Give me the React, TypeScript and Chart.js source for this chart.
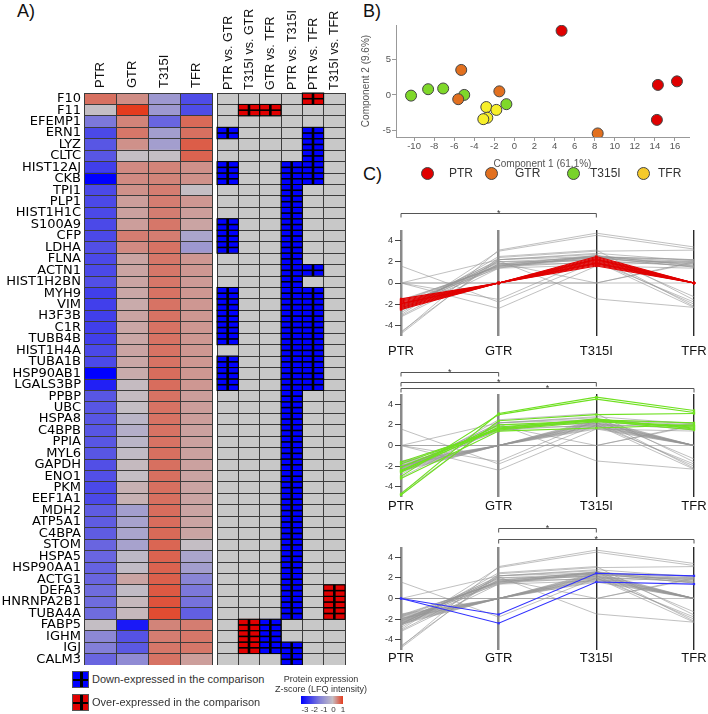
import React, { useEffect, useRef } from 'react';
import { Chart, registerables } from 'chart.js';
Chart.register(...registerables);

// ---------------- DATA ----------------
const genes = ['F10','F11','EFEMP1','ERN1','LYZ','CLTC','HIST12AJ','CKB','TPI1','PLP1','HIST1H1C','S100A9','CFP','LDHA','FLNA','ACTN1','HIST1H2BN','MYH9','VIM','H3F3B','C1R','TUBB4B','HIST1H4A','TUBA1B','HSP90AB1','LGALS3BP','PPBP','UBC','HSPA8','C4BPB','PPIA','MYL6','GAPDH','ENO1','PKM','EEF1A1','MDH2','ATP5A1','C4BPA','STOM','HSPA5','HSP90AA1','ACTG1','DEFA3','HNRNPA2B1','TUBA4A','FABP5','IGHM','IGJ','CALM3'];
const conditions = ['PTR', 'GTR', 'T315I', 'TFR'];

const zPTR = [0.6,0,-1.1,-1.85,-1.65,-1.65,-2.0,-3.0,-1.85,-1.85,-1.85,-1.85,-1.85,-1.75,-1.85,-1.85,-1.75,-2.0,-2.0,-2.0,-2.0,-2.0,-1.85,-1.85,-3.0,-2.5,-1.65,-1.65,-1.65,-1.65,-1.65,-1.65,-1.75,-1.75,-1.85,-1.85,-1.55,-1.55,-1.55,-1.4,-1.4,-1.45,-1.4,-1.3,-1.3,-1.3,0,-0.85,-1.0,-1.4];
const zGTR = [0.38,1.0,0.45,0.55,0.35,0.0,0.4,0.4,0.35,0.25,0.22,0.25,0.5,0.4,0.2,0.2,0.2,0.18,0.15,0.2,0.18,0.18,0.2,0.18,0.15,0.02,0.02,0.0,-0.15,-0.25,-0.15,-0.05,0.03,0.0,0.1,0.1,-0.5,-0.45,-0.4,-0.45,-0.1,-0.05,0.2,-0.05,0.05,0.05,-2.6,-1.7,-1.6,-0.8];
const zT315I = [-0.6,-0.6,-1.4,-0.5,-0.5,0.0,0.45,0.45,0.5,0.5,0.5,0.55,0.5,0.58,0.55,0.55,0.55,0.58,0.58,0.58,0.58,0.58,0.58,0.58,0.62,0.62,0.58,0.58,0.58,0.58,0.58,0.6,0.6,0.6,0.6,0.6,0.62,0.62,0.65,0.68,0.7,0.7,0.72,0.78,0.82,0.88,0.45,0.5,0.55,0.58];
const zTFR = [-1.8,-1.8,0.65,0.6,0.75,0.7,0.35,0.35,0.0,0.3,0.25,0.2,-0.4,-0.6,0.3,0.3,0.28,0.3,0.3,0.3,0.3,0.3,0.3,0.3,0.3,0.3,0.25,0.25,0.25,0.22,0.22,0.22,0.22,0.2,0.2,0.2,0.2,0.2,0.2,0.0,-0.4,-0.5,-0.9,-1.1,-1.2,-1.5,0.5,0.55,0.55,0.25];

const comparisons = ['PTR vs. GTR', 'T315I vs. GTR', 'GTR vs. TFR', 'PTR vs. T315I', 'PTR vs. TFR', 'T315I vs. TFR'];
const downPTRvsGTR = ['ERN1','HIST12AJ','CKB','S100A9','CFP','LDHA','MYH9','VIM','H3F3B','C1R','TUBB4B','TUBA1B','HSP90AB1','LGALS3BP'];
const overPTRvsGTR: string[] = [];
const downT315IvsGTR: string[] = [];
const overT315IvsGTR = ['F11','FABP5','IGHM','IGJ'];
const downGTRvsTFR = ['FABP5','IGHM','IGJ'];
const overGTRvsTFR = ['F11'];
const downPTRvsT315I = ['HIST12AJ','CKB','TPI1','PLP1','HIST1H1C','S100A9','CFP','LDHA','FLNA','ACTN1','HIST1H2BN','MYH9','VIM','H3F3B','C1R','TUBB4B','HIST1H4A','TUBA1B','HSP90AB1','LGALS3BP','PPBP','UBC','HSPA8','C4BPB','PPIA','MYL6','GAPDH','ENO1','PKM','EEF1A1','MDH2','ATP5A1','C4BPA','STOM','HSPA5','HSP90AA1','ACTG1','DEFA3','HNRNPA2B1','TUBA4A','IGJ','CALM3'];
const overPTRvsT315I: string[] = [];
const downPTRvsTFR = ['ERN1','LYZ','CLTC','HIST12AJ','CKB','ACTN1','MYH9','VIM','H3F3B','C1R','TUBB4B','HIST1H4A','TUBA1B','HSP90AB1','LGALS3BP'];
const overPTRvsTFR = ['F10'];
const downT315IvsTFR: string[] = [];
const overT315IvsTFR = ['DEFA3','HNRNPA2B1','TUBA4A'];

const pcaPTR = [{ x: 4.7, y: 9.0 }, { x: 14.3, y: 1.4 }, { x: 16.2, y: 1.9 }, { x: 14.2, y: -3.5 }];
const pcaGTR = [{ x: -5.3, y: 3.5 }, { x: -5.6, y: -0.6 }, { x: -1.5, y: 0.5 }, { x: 8.3, y: -5.4 }];
const pcaT315I = [{ x: -10.3, y: -0.1 }, { x: -8.6, y: 0.8 }, { x: -7.1, y: 0.9 }, { x: -5.0, y: 0.0 }, { x: -0.8, y: -1.3 }];
const pcaTFR = [{ x: -2.8, y: -1.7 }, { x: -1.8, y: -2.1 }, { x: -2.7, y: -3.2 }, { x: -3.1, y: -3.4 }];

// protein profiles across PTR, GTR, T315I, TFR
const redProfiles = [
  [-1.5, 0, 2.4, 0], [-1.6, 0, 1.6, 0], [-1.7, 0, 2.2, 0], [-1.8, 0, 1.9, 0], [-1.9, 0, 2.0, 0], [-2.0, 0, 1.8, 0],
  [-2.1, 0, 2.3, 0], [-2.2, 0, 1.7, 0], [-2.3, 0, 2.5, 0], [-2.4, 0, 2.1, 0], [-2.5, 0, 2.2, 0], [-1.95, 0, 1.9, 0],
];
const greenProfiles = [
  [-4.7, 3.1, 4.7, 3.4], [-3.0, 3.0, 4.5, 3.2], [-4.8, 2.4, 3.0, 3.1], [-2.6, 1.8, 2.5, 2.2], [-2.4, 1.6, 2.4, 1.9],
  [-1.6, 1.5, 2.3, 1.8], [-2.1, 1.7, 2.6, 1.6], [-3.2, 1.4, 1.7, 2.0], [-2.5, 2.0, 2.4, 1.5], [-1.8, 1.6, 2.5, 1.7],
];
const blueProfiles = [
  [0, -1.55, 2.45, 2.2], [0, -2.4, 1.6, 1.4],
];
const otherProfiles = [
  [1.6, -1.8, 2.0, -2.3], [0, 2.2, 2.8, 2.1], [0, 0, 0, 2.0], [-2.2, 2.1, -1.5, -2.3], [-2.3, 1.9, 0, 1.9],
  [-4.6, 2.2, 2.7, -1.3], [-2.8, 2.5, 3.1, -1.6], [-3.1, 1.8, 2.2, -2.0], [-2.6, 1.5, 2.0, -1.8], [-2.0, 1.4, 2.6, -2.2],
  [-2.2, 1.7, 1.9, 2.1], [-2.4, 2.0, 2.1, 1.6], [-1.7, 1.6, 2.4, 1.5], [0, 0, 0, 0], [-2.5, 2.2, 2.5, 2.0],
];

const bracketsC1 = [['PTR', 'T315I']];
const bracketsC2 = [['PTR', 'GTR'], ['PTR', 'T315I'], ['PTR', 'TFR']];
const bracketsC3 = [['GTR', 'T315I'], ['GTR', 'TFR']];

const zLegendTicks = ['-3', '-2', '-1', '0', '1'];

// ---------------- HELPERS ----------------
function zColor(v: number): string {
  const mid = [196, 190, 196], lo = [0, 0, 255], hi = [228, 60, 30];
  const t = v < 0 ? Math.min(1, -v / 3) : Math.min(1, v);
  const end = v < 0 ? lo : hi;
  const c = mid.map((m, k) => Math.round(m + (end[k] - m) * t));
  return `rgb(${c[0]},${c[1]},${c[2]})`;
}
function sigColumn(down: string[], over: string[]): number[] {
  return genes.map(g => (down.includes(g) ? -1 : over.includes(g) ? 1 : 0));
}
const FONT = 'Liberation Sans, Arial, sans-serif';
const GRIDC = '#3c3c3c';

function useChart(factory: (c: HTMLCanvasElement) => Chart) {
  const ref = useRef<HTMLCanvasElement>(null);
  useEffect(() => {
    const ch = factory(ref.current!);
    return () => ch.destroy();
  }, []);
  return ref;
}

function headerPlugin(labels: string[], size: number, gap: number) {
  return {
    id: 'headers',
    afterDraw(chart: any) {
      const { ctx } = chart;
      const xs = chart.scales.x;
      labels.forEach((l, j) => {
        const x = xs.getPixelForValue(j + 0.5);
        ctx.save();
        ctx.translate(x + 0.5, chart.chartArea.top - gap);
        ctx.rotate(-Math.PI / 2);
        ctx.font = `${size}px ${FONT}`;
        ctx.fillStyle = '#111';
        ctx.textAlign = 'left';
        ctx.textBaseline = 'middle';
        ctx.fillText(l, 0, 0);
        ctx.restore();
      });
    },
  };
}

function matrixScales(ncol: number, showGenes: boolean, leftW: number) {
  return {
    x: {
      type: 'linear', position: 'top', min: 0, max: ncol,
      ticks: { display: false },
      grid: { display: false, drawTicks: false },
      border: { display: false },
      afterFit: (s: any) => { s.height = 93; s.paddingLeft = 0; s.paddingRight = 0; },
    },
    xg: {
      type: 'linear', position: 'bottom', min: 0, max: ncol,
      afterBuildTicks: (a: any) => { a.ticks = Array.from({ length: ncol + 1 }, (_, k) => ({ value: k })); },
      ticks: { display: false },
      grid: { color: GRIDC, z: 1, drawTicks: false },
      border: { display: false },
      afterFit: (s: any) => { s.height = 0; s.paddingLeft = 0; s.paddingRight = 0; },
    },
    y: {
      type: 'category', position: 'left',
      ticks: showGenes ? { autoSkip: false, font: { family: 'DejaVu Sans', size: 13 }, color: '#000', padding: 3 } : { display: false },
      grid: { offset: true, color: GRIDC, z: 1, drawTicks: false },
      border: { display: false },
      afterFit: (s: any) => { s.width = leftW; s.paddingTop = 0; s.paddingBottom = 0; },
    },
  };
}

// ---------------- HEATMAP ----------------
function Heatmap() {
  const ref = useChart(canvas => {
    const cols = [zPTR, zGTR, zT315I, zTFR];
    return new Chart(canvas, {
      type: 'bar',
      data: {
        labels: genes,
        datasets: cols.map((vals, j) => ({
          label: conditions[j],
          data: vals.map(() => [j, j + 1]),
          backgroundColor: vals.map(zColor),
          borderWidth: 0,
          barPercentage: 1,
          categoryPercentage: 1,
          grouped: false,
        })) as any,
      },
      options: {
        indexAxis: 'y',
        responsive: false,
        animation: false,
        layout: { padding: { right: 1, left: 0, top: 0, bottom: 0 } },
        plugins: { legend: { display: false }, tooltip: { enabled: false } },
        scales: matrixScales(4, true, 84) as any,
      },
      plugins: [headerPlugin(conditions, 13, 5)],
    });
  });
  return <canvas ref={ref} width={213} height={665} style={{ position: 'absolute', left: 0, top: 0 }} />;
}

// ---------------- COMPARISON MATRIX ----------------
function Comparisons() {
  const ref = useChart(canvas => {
    const sig = [
      sigColumn(downPTRvsGTR, overPTRvsGTR),
      sigColumn(downT315IvsGTR, overT315IvsGTR),
      sigColumn(downGTRvsTFR, overGTRvsTFR),
      sigColumn(downPTRvsT315I, overPTRvsT315I),
      sigColumn(downPTRvsTFR, overPTRvsTFR),
      sigColumn(downT315IvsTFR, overT315IvsTFR),
    ];
    const crossPlugin = {
      id: 'cross',
      afterDraw(chart: any) {
        const { ctx } = chart;
        const xs = chart.scales.x, ys = chart.scales.y;
        const h = Math.abs(ys.getPixelForValue(1) - ys.getPixelForValue(0));
        sig.forEach((col, j) => col.forEach((s, i) => {
          if (!s) return;
          const x0 = xs.getPixelForValue(j), x1 = xs.getPixelForValue(j + 1), yc = ys.getPixelForValue(i);
          ctx.save();
          ctx.strokeStyle = '#000';
          ctx.lineWidth = 2.6;
          ctx.beginPath(); ctx.moveTo((x0 + x1) / 2, yc - h / 2); ctx.lineTo((x0 + x1) / 2, yc + h / 2); ctx.stroke();
          ctx.lineWidth = 1.6;
          ctx.beginPath(); ctx.moveTo(x0, yc); ctx.lineTo(x1, yc); ctx.stroke();
          ctx.lineWidth = 1;
          ctx.strokeRect(x0, yc - h / 2, x1 - x0, h);
          ctx.restore();
        }));
      },
    };
    return new Chart(canvas, {
      type: 'bar',
      data: {
        labels: genes,
        datasets: sig.map((col, j) => ({
          label: comparisons[j],
          data: col.map(() => [j, j + 1]),
          backgroundColor: col.map(s => (s < 0 ? '#0000ff' : s > 0 ? '#e00000' : '#c8c8c8')),
          borderWidth: 0,
          barPercentage: 1,
          categoryPercentage: 1,
          grouped: false,
        })) as any,
      },
      options: {
        indexAxis: 'y',
        responsive: false,
        animation: false,
        layout: { padding: { right: 3, left: 0, top: 0, bottom: 0 } },
        plugins: { legend: { display: false }, tooltip: { enabled: false } },
        scales: matrixScales(6, false, 2) as any,
      },
      plugins: [crossPlugin, headerPlugin(comparisons, 12.5, 3)],
    });
  });
  return <canvas ref={ref} width={133} height={665} style={{ position: 'absolute', left: 215, top: 0 }} />;
}

// ---------------- PCA ----------------
const groupColors = { PTR: '#e00000', GTR: '#e2701f', T315I: '#7fd82a', TFR: '#f7ef2a' };
function Pca() {
  const ref = useChart(canvas => new Chart(canvas, {
    type: 'scatter',
    data: {
      datasets: [
        { label: 'PTR', data: pcaPTR, backgroundColor: groupColors.PTR },
        { label: 'GTR', data: pcaGTR, backgroundColor: groupColors.GTR },
        { label: 'T315I', data: pcaT315I, backgroundColor: groupColors.T315I },
        { label: 'TFR', data: pcaTFR, backgroundColor: groupColors.TFR },
      ].map(d => ({ ...d, pointRadius: 5.5, borderColor: '#444', borderWidth: 1 })),
    },
    options: {
      responsive: false,
      animation: false,
      layout: { padding: { top: 25, right: 19, left: 0, bottom: 0 } },
      plugins: { legend: { display: false }, tooltip: { enabled: false } },
      scales: {
        x: {
          type: 'linear', min: -11.8, max: 17.4,
          afterBuildTicks: (a: any) => { a.ticks = [-10, -8, -6, -4, -2, 0, 2, 4, 6, 8, 10, 12, 14, 16].map(v => ({ value: v })); },
          ticks: { font: { family: FONT, size: 9.5 }, color: '#555', padding: 0, maxRotation: 0 },
          grid: { drawOnChartArea: false, tickLength: 4, color: '#999' },
          border: { color: '#999' },
          title: { display: true, text: 'Component 1 (61.1%)', font: { family: FONT, size: 10 }, color: '#555', padding: { top: 1, bottom: 0 } },
          afterFit: (s: any) => { s.height = 33; s.paddingLeft = 0; s.paddingRight = 0; },
        },
        y: {
          type: 'linear', min: -5.9, max: 9.8,
          afterBuildTicks: (a: any) => { a.ticks = [-5, 0, 5].map(v => ({ value: v })); },
          ticks: { font: { family: FONT, size: 9.5 }, color: '#555', padding: 1 },
          grid: { drawOnChartArea: false, tickLength: 4, color: '#999' },
          border: { color: '#999' },
          title: { display: true, text: 'Component 2 (9.6%)', font: { family: FONT, size: 10 }, color: '#555', padding: { top: 0, bottom: 2 } },
          afterFit: (s: any) => { s.width = 36; },
        },
      } as any,
    },
  }));
  return <canvas ref={ref} width={348} height={170} style={{ position: 'absolute', left: 360, top: 0 }} />;
}

// ---------------- PROFILE LINE CHARTS ----------------
function Profiles(props: { top: number; height: number; padTop: number; axisH: number; labelPad: number; highlight: number[][]; color: string; brackets: string[][]; offsets: number[] }) {
  const { top, height, padTop, axisH, labelPad, highlight, color, brackets, offsets } = props;
  const ref = useChart(canvas => {
    const all = [...redProfiles, ...greenProfiles, ...blueProfiles, ...otherProfiles].filter(p => !highlight.includes(p));
    const bracketPlugin = {
      id: 'brackets',
      afterDraw(chart: any) {
        const { ctx } = chart;
        const xs = chart.scales.x;
        brackets.forEach((b, k) => {
          const x0 = xs.getPixelForValue(conditions.indexOf(b[0]));
          const x1 = xs.getPixelForValue(conditions.indexOf(b[1]));
          const y = Math.round(chart.chartArea.top - offsets[k]) + 0.5;
          ctx.save();
          ctx.strokeStyle = '#555';
          ctx.lineWidth = 1;
          ctx.beginPath();
          ctx.moveTo(x0, y + 4); ctx.lineTo(x0, y); ctx.lineTo(x1, y); ctx.lineTo(x1, y + 4);
          ctx.stroke();
          ctx.fillStyle = '#333';
          ctx.font = `9px ${FONT}`;
          ctx.textAlign = 'center';
          ctx.textBaseline = 'alphabetic';
          ctx.fillText('*', (x0 + x1) / 2, y + 2);
          ctx.restore();
        });
      },
    };
    return new Chart(canvas, {
      type: 'line',
      data: {
        labels: conditions,
        datasets: [
          ...highlight.map(p => ({ data: p, borderColor: color, backgroundColor: color, borderWidth: 1.1, pointRadius: 1.6, pointStyle: 'rect', pointBorderWidth: 0 })),
          ...all.map(p => ({ data: p, borderColor: 'rgba(150,150,150,0.6)', borderWidth: 1, pointRadius: 0 })),
        ] as any,
      },
      options: {
        responsive: false,
        animation: false,
        layout: { padding: { top: padTop, right: 14, left: 0, bottom: 0 } },
        plugins: { legend: { display: false }, tooltip: { enabled: false } },
        elements: { line: { tension: 0 } },
        scales: {
          x: {
            type: 'category', offset: false,
            ticks: { font: { family: FONT, size: 13 }, color: '#111', padding: labelPad, maxRotation: 0, autoSkip: false },
            grid: { color: ['#8a8a8a', '#8a8a8a', '#2a2a2a', '#2a2a2a'], lineWidth: [2.5, 2.5, 1.4, 1.4], drawTicks: false },
            border: { display: false },
            afterFit: (s: any) => { s.height = axisH; s.paddingLeft = 0; s.paddingRight = 0; },
          },
          y: {
            type: 'linear', min: -5, max: 5,
            afterBuildTicks: (a: any) => { a.ticks = [-4, -2, 0, 2, 4].map(v => ({ value: v })); },
            ticks: { font: { family: FONT, size: 9 }, color: '#333', padding: 2 },
            grid: { drawOnChartArea: false, tickLength: 6, color: '#444' },
            border: { display: false },
            afterFit: (s: any) => { s.width = 41; },
          },
        } as any,
      },
      plugins: [bracketPlugin],
    });
  });
  return <canvas ref={ref} width={348} height={height} style={{ position: 'absolute', left: 360, top }} />;
}

// ---------------- APP ----------------
const letter: React.CSSProperties = { position: 'absolute', font: `18px ${FONT}`, color: '#111', lineHeight: '18px' };
const small: React.CSSProperties = { position: 'absolute', fontFamily: FONT, color: '#333', whiteSpace: 'nowrap' };

function CrossSquare({ left, top, color }: { left: number; top: number; color: string }) {
  return (
    <div style={{ position: 'absolute', left, top, width: 17, height: 17, background: color, border: '1px solid #555', boxSizing: 'border-box' }}>
      <div style={{ position: 'absolute', left: 6.5, top: 0, width: 3, height: 15, background: '#000' }} />
      <div style={{ position: 'absolute', left: 0, top: 6.5, width: 15, height: 2, background: '#000' }} />
    </div>
  );
}

export default function App() {
  const legendItems = [
    { name: 'PTR', cx: 427, lx: 449, color: '#e00000' },
    { name: 'GTR', cx: 491, lx: 515, color: '#e2701f' },
    { name: 'T315I', cx: 573, lx: 590, color: '#78d22a' },
    { name: 'TFR', cx: 643, lx: 658, color: '#f5c92a' },
  ];
  return (
    <div style={{ position: 'absolute', left: 0, top: 0, width: 708, height: 714, background: '#fff', overflow: 'hidden' }}>
      <div style={{ ...letter, left: 17, top: 2 }}>A)</div>
      <div style={{ ...letter, left: 363, top: 2 }}>B)</div>
      <div style={{ ...letter, left: 363, top: 165 }}>C)</div>
      <Heatmap />
      <Comparisons />
      <Pca />
      {legendItems.map(it => (
        <React.Fragment key={it.name}>
          <div style={{ position: 'absolute', left: it.cx - 6.5, top: 167, width: 13, height: 13, borderRadius: '50%', background: it.color, border: '1px solid #444', boxSizing: 'border-box' }} />
          <div style={{ ...small, left: it.lx, top: 166, fontSize: 12, lineHeight: '14px' }}>{it.name}</div>
        </React.Fragment>
      ))}
      <Profiles top={195} height={167} padTop={35} axisH={26} labelPad={8} highlight={redProfiles} color="#e00000" brackets={bracketsC1} offsets={[17]} />
      <Profiles top={362} height={155} padTop={32} axisH={20} labelPad={2} highlight={greenProfiles} color="#6fe020" brackets={bracketsC2} offsets={[22, 12.5, 6]} />
      <Profiles top={517} height={160} padTop={30} axisH={27} labelPad={1} highlight={blueProfiles} color="#3030ff" brackets={bracketsC3} offsets={[19, 8]} />
      <CrossSquare left={72} top={671} color="#0000ff" />
      <div style={{ ...small, left: 92, top: 673, fontSize: 11, lineHeight: '13px' }}>Down-expressed in the comparison</div>
      <CrossSquare left={72} top={694} color="#e00000" />
      <div style={{ ...small, left: 92, top: 696, fontSize: 11, lineHeight: '13px' }}>Over-expressed in the comparison</div>
      <div style={{ ...small, left: 271, width: 100, top: 674, fontSize: 9, lineHeight: '10px', textAlign: 'center' }}>Protein expression</div>
      <div style={{ ...small, left: 271, width: 100, top: 684, fontSize: 9, lineHeight: '10px', textAlign: 'center' }}>Z-score (LFQ intensity)</div>
      <div style={{ position: 'absolute', left: 301, top: 696, width: 42, height: 8, background: 'linear-gradient(to right, #0000ff 0%, #8280d8 45%, #c4bec4 75%, #e43c1e 100%)' }} />
      {zLegendTicks.map((t, k) => (
        <div key={t} style={{ ...small, left: 300 + k * 9.5, width: 10, top: 705, fontSize: 8, lineHeight: '9px', textAlign: 'center' }}>{t}</div>
      ))}
    </div>
  );
}
